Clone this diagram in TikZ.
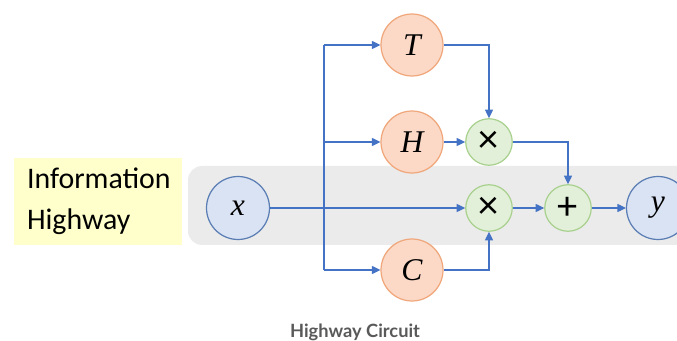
\documentclass[tikz,border=0pt]{standalone}
\usepackage{fontspec}
\setsansfont{Carlito}
\newfontfamily\captionfont{Lato}
\newfontfamily\labelfont{Liberation Serif}
\usetikzlibrary{arrows.meta}
\definecolor{wireblue}{HTML}{4472C4}
\definecolor{gatefill}{HTML}{FBD9C6}
\definecolor{gateline}{HTML}{F0A77C}
\definecolor{opfill}{HTML}{E2F0D9}
\definecolor{opline}{HTML}{A9D18E}
\definecolor{iofill}{HTML}{DAE3F3}
\definecolor{ioline}{HTML}{5A7DB4}
\definecolor{bandgray}{HTML}{EBEBEB}
\definecolor{infoyellow}{HTML}{FFFFCC}
\definecolor{capgray}{HTML}{595959}
\tikzset{
	gate/.style={circle, draw=gateline, fill=gatefill, line width=0.7pt, minimum size=1.24cm, inner sep=0pt, font=\labelfont\itshape\fontsize{18}{20}\selectfont},
	io/.style={circle, draw=ioline, fill=iofill, line width=0.7pt, minimum size=1.26cm, inner sep=0pt, font=\labelfont\itshape\fontsize{18}{20}\selectfont},
	op/.style={circle, draw=opline, fill=opfill, line width=0.7pt, minimum size=0.93cm, inner sep=0pt, font=\sffamily\fontsize{23}{25}\selectfont},
	wire/.style={draw=wireblue, line width=0.7pt},
	arr/.style={wire, -{Triangle[length=1.7mm,width=1.6mm]}},
}

\begin{document}
\begin{tikzpicture}[x=0.02cm, y=-0.02cm]
		%%%%% START %%%%%
		\useasboundingbox (0, 0) rectangle (677, 341);
		\clip (0, 0) rectangle (677, 341);
		
		% highway band
		\fill[bandgray, rounded corners=8pt] (188, 166) rectangle (740, 245);
		\node[fill=infoyellow, minimum width=3.36cm, minimum height=1.74cm, inner xsep=0.26cm, text width=2.84cm, align=left, font=\sffamily\fontsize{17}{23.5}\selectfont] (info) at (98, 201.5) {Information\\Highway};
		
		% nodes
		\node[io] (x) at (238, 208) {x};
		\node[gate] (T) at (412, 45) {T};
		\node[gate] (H) at (412, 142) {H};
		\node[gate] (C) at (412, 270) {C};
		\node[op] (m1) at (489, 142) {×};
		\node[op] (m2) at (489, 208) {×};
		\node[op] (add) at (568, 208) {+};
		\node[io] (y) at (658, 208) {y};
		
		\coordinate (splittop) at (324, 45);
		\coordinate (splitmid) at (324, 142);
		\coordinate (splitbot) at (324, 270);
		
		% wires
		\draw[wire] (splittop) -- (splitbot);
		\draw[arr] (x) -- (m2);
		\draw[arr] (splittop) -- (T);
		\draw[arr] (splitmid) -- (H);
		\draw[arr] (splitbot) -- (C);
		\draw[arr] (T) -| (m1);
		\draw[arr] (H) -- (m1);
		\draw[arr] (C) -| (m2);
		\draw[arr] (m1) -| (add);
		\draw[arr] (m2) -- (add);
		\draw[arr] (add) -- (y);
		
		\node[text=capgray, font=\captionfont\bfseries\fontsize{10.4}{12}\selectfont] (caption) at (355, 332) {Highway Circuit};
		%%%%% END %%%%%
\end{tikzpicture}
\end{document}
